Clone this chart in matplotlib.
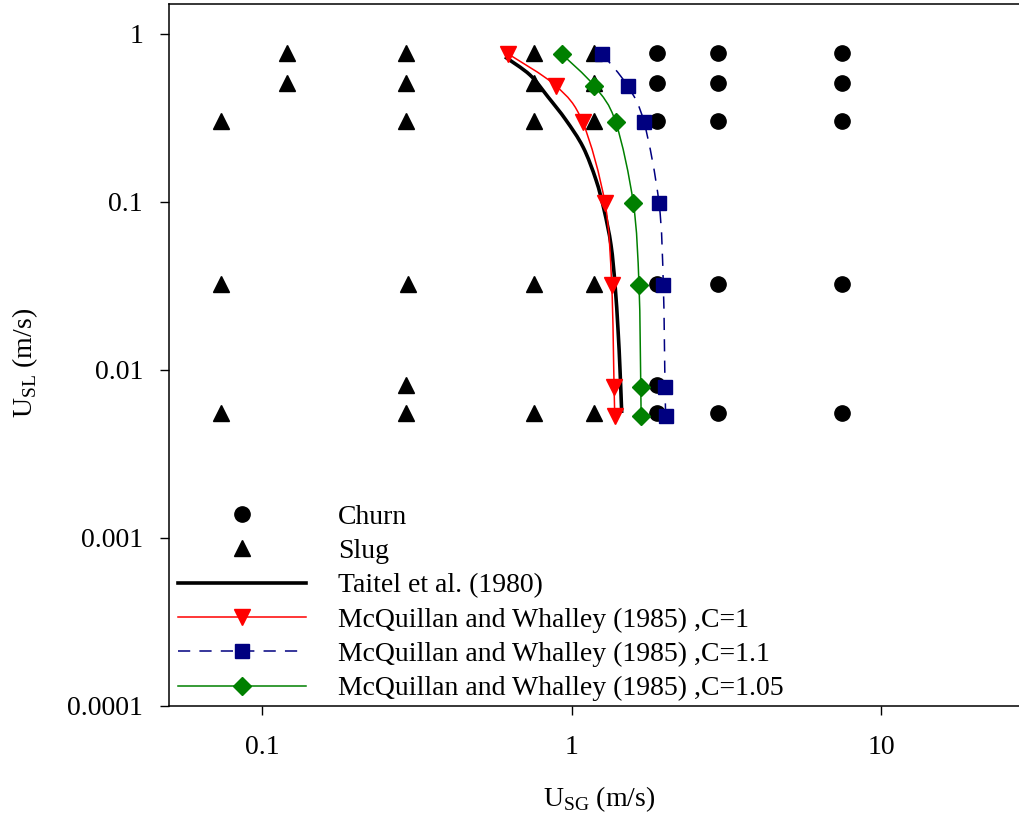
import matplotlib
matplotlib.use("Agg")
import numpy as np
import matplotlib.pyplot as plt
from matplotlib.path import Path
from matplotlib.patches import PathPatch
from matplotlib.lines import Line2D

plt.rcParams['font.family'] = ['Liberation Serif', 'DejaVu Serif']
plt.rcParams['mathtext.fontset'] = 'custom'
plt.rcParams['mathtext.rm'] = 'Liberation Serif'
plt.rcParams['font.size'] = 20

# experimental flow-pattern points (USG, USL in m/s)
churn_usg = [1.88, 2.97, 7.46, 1.88, 2.97, 7.46, 1.88, 2.97, 7.46,
             1.88, 2.97, 7.46, 1.88, 1.88, 2.97, 7.46]
churn_usl = [0.774, 0.774, 0.774, 0.508, 0.508, 0.508, 0.305, 0.305, 0.305,
             0.0324, 0.0324, 0.0324, 0.00815, 0.0055, 0.0055, 0.0055]

slug_usg = [0.12, 0.292, 0.755, 1.18,
            0.12, 0.292, 0.755, 1.18,
            0.0738, 0.292, 0.755, 1.18,
            0.0738, 0.296, 0.755, 1.18,
            0.292,
            0.0738, 0.292, 0.755, 1.18]
slug_usl = [0.774, 0.774, 0.774, 0.774,
            0.508, 0.508, 0.508, 0.508,
            0.305, 0.305, 0.305, 0.305,
            0.0324, 0.0324, 0.0324, 0.0324,
            0.00815,
            0.0055, 0.0055, 0.0055, 0.0055]

# Taitel et al. (1980) transition
taitel_usg = [0.609, 0.733, 0.839, 0.958, 1.088, 1.198, 1.272, 1.339, 1.380, 1.411, 1.432, 1.450]
taitel_usl = [0.730, 0.570, 0.421, 0.307, 0.212, 0.135, 0.0895, 0.0554, 0.032, 0.01726, 0.00997, 0.00553]

# McQuillan and Whalley (1985) for three values of C
mw_usl = [0.76, 0.49, 0.298, 0.098, 0.0318, 0.00785, 0.0053]
mw_c1 = [0.624, 0.89, 1.085, 1.281, 1.346, 1.37, 1.377]
mw_c11 = [1.255, 1.516, 1.712, 1.914, 1.976, 2.001, 2.011]
mw_c105 = [0.928, 1.183, 1.387, 1.581, 1.649, 1.671, 1.674]


def smooth_path(xs, ys):
    # Catmull-Rom spline in log-log space, written as cubic Bezier segments
    p = np.log10(np.column_stack([xs, ys]))
    ext = np.vstack([p[0], p, p[-1]])
    verts = [p[0]]
    codes = [Path.MOVETO]
    for i in range(len(p) - 1):
        p0, p1, p2, p3 = ext[i], ext[i + 1], ext[i + 2], ext[i + 3]
        verts += [p1 + (p2 - p0) / 6, p2 - (p3 - p1) / 6, p2]
        codes += [Path.CURVE4] * 3
    return Path(10 ** np.array(verts), codes)


fig = plt.figure(figsize=(10.19, 8.15), dpi=100)
ax = fig.add_axes([168.8 / 1019, 109.4 / 815, 860.4 / 1019, 701.2 / 815])
ax.set_xscale('log')
ax.set_yscale('log')

ax.plot(churn_usg, churn_usl, 'o', color='black', ms=11, zorder=2)
ax.plot(slug_usg, slug_usl, '^', color='black', ms=11, zorder=2)

curves = [
    (taitel_usg, taitel_usl, 'black', 2.6, '-', None, 0),
    (mw_c1, mw_usl, '#ff0000', 1.1, '-', 'v', 11),
    (mw_c11, mw_usl, '#000080', 1.1, (0, (8, 6)), 's', 10),
    (mw_c105, mw_usl, '#008000', 1.1, '-', 'D', 9),
]
for xs, ys, c, lw, ls, mk, ms in curves:
    ax.add_patch(PathPatch(smooth_path(xs, ys), fill=False, edgecolor=c,
                           lw=lw, linestyle=ls, zorder=3))
    if mk:
        ax.plot(xs, ys, linestyle='none', marker=mk, color=c, ms=ms, zorder=4)

ax.set_xlim(0.05, 30)
ax.set_ylim(1e-4, 1.5)
ax.set_xticks([0.1, 1, 10], ['0.1', '1', '10'])
ax.set_yticks([1e-4, 1e-3, 1e-2, 1e-1, 1], ['0.0001', '0.001', '0.01', '0.1', '1'])
ax.minorticks_off()
ax.tick_params(direction='out', length=6.5, width=1, pad=12)
ax.tick_params(axis='x', pad=15)
for s in ax.spines.values():
    s.set_linewidth(1.1)
ax.spines['right'].set_visible(False)

ax.set_xlabel(r'U$_{\rm SG}$ (m/s)')
ax.set_ylabel(r'U$_{\rm SL}$ (m/s)')
ax.xaxis.set_label_coords(0.5, -0.112)
ax.yaxis.set_label_coords(-0.1497, 0.4886)

handles = [
    Line2D([], [], linestyle='none', marker='o', color='black', ms=11),
    Line2D([], [], linestyle='none', marker='^', color='black', ms=11),
    Line2D([], [], color='black', lw=2.6),
    Line2D([], [], color='#ff0000', lw=1.1, marker='v', ms=11),
    Line2D([], [], color='#000080', lw=1.1, marker='s', ms=10, dashes=(8, 6)),
    Line2D([], [], color='#008000', lw=1.1, marker='D', ms=9),
]
labels = ['Churn', 'Slug', 'Taitel et al. (1980)',
          'McQuillan and Whalley (1985) ,C=1',
          'McQuillan and Whalley (1985) ,C=1.1',
          'McQuillan and Whalley (1985) ,C=1.05']
ax.legend(handles, labels, loc='lower left', bbox_to_anchor=(0.0106, 0.006),
          frameon=False, numpoints=1, handlelength=4.6, handletextpad=1.15,
          labelspacing=0.32, borderpad=0, borderaxespad=0)

fig.savefig('out.png', dpi=100)
